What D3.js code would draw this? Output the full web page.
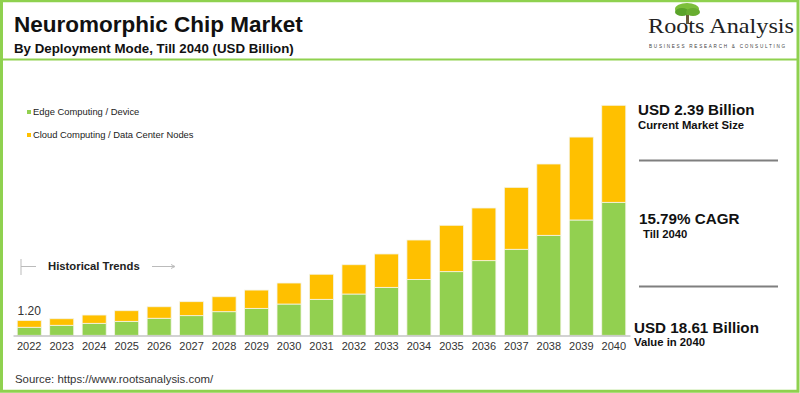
<!DOCTYPE html>
<html>
<head>
<meta charset="utf-8">
<script src="https://cdn.jsdelivr.net/npm/d3@7"></script>
<style>
  body { margin: 0; background: #fff; }
  svg { display: block; font-family: "Liberation Sans", Arial, sans-serif; }
</style>
</head>
<body>
<div class="vis-chart"></div>
<script>
const years = ["2022", "2023", "2024", "2025", "2026", "2027", "2028", "2029", "2030", "2031",
  "2032", "2033", "2034", "2035", "2036", "2037", "2038", "2039", "2040"];
const edge = [0.65, 0.81, 0.97, 1.13, 1.38, 1.59, 1.91, 2.18, 2.53, 2.91,
  3.34, 3.88, 4.51, 5.15, 6.04, 6.96, 8.09, 9.33, 10.76];
const cloud = [0.55, 0.53, 0.67, 0.86, 0.93, 1.13, 1.21, 1.48, 1.70, 2.03,
  2.37, 2.70, 3.20, 3.75, 4.26, 5.01, 5.77, 6.71, 7.85];
const seriesNames = ["Edge Computing / Device", "Cloud Computing / Data Center Nodes"];
const firstLabel = "1.20";

const width = 800, height = 393;
const green = "#92d050", yellow = "#ffc000", frame = "#8fd14f";

const svg = d3.select(".vis-chart").append("svg")
  .attr("width", width).attr("height", height);

// frame
svg.append("rect").attr("x", 1.5).attr("y", 0.75).attr("width", width - 3.5).attr("height", height - 2.5)
  .attr("fill", "none").attr("stroke", frame).attr("stroke-width", 3);
svg.append("line").attr("x1", 3).attr("x2", 797).attr("y1", 59.5).attr("y2", 59.5)
  .attr("stroke", frame).attr("stroke-width", 1.8);

// titles
svg.append("text").attr("x", 14).attr("y", 32).text("Neuromorphic Chip Market")
  .attr("font-size", "22.5px").attr("font-weight", "bold").attr("fill", "#111");
svg.append("text").attr("x", 14).attr("y", 52.5).text("By Deployment Mode, Till 2040 (USD Billion)")
  .attr("font-size", "13.3px").attr("font-weight", "bold").attr("fill", "#111");

// logo
const logo = svg.append("g");
logo.append("rect").attr("x", 686).attr("y", 12).attr("width", 3).attr("height", 12).attr("fill", "#6b5a3a");
logo.append("ellipse").attr("cx", 687).attr("cy", 9).attr("rx", 12).attr("ry", 6).attr("fill", "#7cbf3a");
logo.append("ellipse").attr("cx", 682).attr("cy", 12).attr("rx", 7).attr("ry", 4).attr("fill", "#5aa32a");
logo.append("ellipse").attr("cx", 693).attr("cy", 12).attr("rx", 7).attr("ry", 4).attr("fill", "#68ad30");
logo.append("text").attr("x", 648).attr("y", 33).text("Roots Analysis")
  .attr("font-family", "'Liberation Serif', 'DejaVu Serif', serif").attr("font-size", "22px")
  .attr("textLength", 146).attr("lengthAdjust", "spacingAndGlyphs").attr("fill", "#222");
logo.append("text").attr("x", 649).attr("y", 48).text("BUSINESS RESEARCH & CONSULTING")
  .attr("font-size", "4.6px").attr("letter-spacing", "1.75px").attr("fill", "#444");

// legend
const legend = svg.selectAll(".legend").data(seriesNames).enter().append("g")
  .attr("class", "legend")
  .attr("transform", (d, i) => "translate(27," + (112 + i * 23) + ")");
legend.append("rect").attr("y", -2).attr("width", 4).attr("height", 4)
  .attr("fill", (d, i) => i ? yellow : green);
legend.append("text").attr("x", 6).attr("dy", "0.35em").text(d => d)
  .attr("font-size", "9.4px").attr("fill", "#222");

// scales
const x = d3.scaleBand().domain(years).range([13, 630]).paddingInner(0.26).paddingOuter(0.13);
const y = d3.scaleLinear().domain([0, 18.61]).range([335.3, 105.3]);

const data = years.map((yr, i) => ({ year: yr, edge: edge[i], cloud: cloud[i] }));
const stack = d3.stack().keys(["edge", "cloud"])(data);

svg.append("g").selectAll("g").data(stack).enter().append("g")
  .attr("fill", (d, i) => i ? yellow : green)
  .selectAll("rect").data(d => d).enter().append("rect")
  .attr("x", d => x(d.data.year))
  .attr("width", x.bandwidth())
  .attr("y", d => y(d[1]))
  .attr("height", d => y(d[0]) - y(d[1]))
  .attr("stroke", "#f4f4e8").attr("stroke-width", 0.8);

// x axis
const xAxis = svg.append("g").attr("transform", "translate(0,335.5)")
  .call(d3.axisBottom(x).tickSize(0).tickPadding(7));
xAxis.select(".domain").attr("stroke", "#a6a6a6");
xAxis.selectAll("text").attr("font-size", "11px").attr("fill", "#333")
  .attr("font-family", "'Liberation Sans', Arial, sans-serif");

// first value label
svg.append("text").attr("x", x(years[0]) + x.bandwidth() / 2).attr("y", y(edge[0] + cloud[0]) - 5)
  .attr("text-anchor", "middle").text(firstLabel).attr("font-size", "12px").attr("fill", "#333");

// historical trends
const ht = svg.append("g").attr("stroke", "#bbb").attr("stroke-width", 1);
ht.append("line").attr("x1", 21).attr("x2", 21).attr("y1", 259).attr("y2", 275);
ht.append("line").attr("x1", 21).attr("x2", 36).attr("y1", 266.5).attr("y2", 266.5);
ht.append("line").attr("x1", 152).attr("x2", 174).attr("y1", 266.5).attr("y2", 266.5);
ht.append("path").attr("d", "M171,264.5 L175,266.5 L171,268.5").attr("fill", "none");
svg.append("text").attr("x", 48).attr("y", 266.5).attr("dy", "0.35em").text("Historical Trends")
  .attr("font-size", "11.3px").attr("font-weight", "bold").attr("fill", "#222");

// right panel
const panel = [
  { big: "USD 2.39 Billion", small: "Current Market Size", x: 638, y: 110, sx: 638 },
  { big: "15.79% CAGR", small: "Till 2040", x: 639, y: 219, sx: 643 },
  { big: "USD 18.61 Billion", small: "Value in 2040", x: 634, y: 327.5, sx: 634 }
];
panel.forEach(p => {
  svg.append("text").attr("x", p.x).attr("y", p.y).attr("dy", "0.35em").text(p.big)
    .attr("font-size", "15.2px").attr("font-weight", "bold").attr("fill", "#111");
  svg.append("text").attr("x", p.sx).attr("y", p.y + 15).attr("dy", "0.35em").text(p.small)
    .attr("font-size", "11.3px").attr("font-weight", "bold").attr("fill", "#111");
});
[160.5, 286.5].forEach(ly => {
  svg.append("line").attr("x1", 639).attr("x2", 778).attr("y1", ly).attr("y2", ly)
    .attr("stroke", "#7f7f7f").attr("stroke-width", 1.8);
});

// source
svg.append("text").attr("x", 15).attr("y", 379).attr("dy", "0.35em")
  .text("Source: https://www.rootsanalysis.com/").attr("font-size", "11.4px").attr("fill", "#333");
</script>
</body>
</html>
